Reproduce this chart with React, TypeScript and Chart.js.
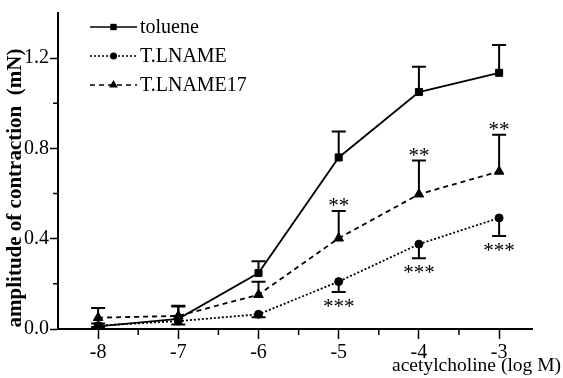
import React, { useEffect, useRef } from "react";
import { Chart, registerables } from "chart.js";

Chart.register(...registerables);

// ---- data ----
const doses = [-8, -7, -6, -5, -4, -3];
const seriesLabels = ["toluene", "T.LNAME", "T.LNAME17"];
const tolueneMean = [0.012, 0.045, 0.248, 0.76, 1.05, 1.135];
const tolueneSem = [0.012, 0.055, 0.052, 0.115, 0.112, 0.123];
const lnameMean = [0.015, 0.035, 0.065, 0.21, 0.376, 0.492];
const lnameSem = [0.006, 0.015, 0.013, 0.046, 0.062, 0.08];
const lname17Mean = [0.05, 0.058, 0.152, 0.402, 0.597, 0.698];
const lname17Sem = [0.043, 0.045, 0.057, 0.121, 0.149, 0.163];
const lname17Marks = ["", "", "", "**", "**", "**"];
const lnameMarks = ["", "", "", "***", "***", "***"];

const xMajorTicks = [-8, -7, -6, -5, -4, -3];
const xMinorTicks = [-7.5, -6.5, -5.5, -4.5, -3.5];
const yMajorTicks = [0, 0.4, 0.8, 1.2];
const yMinorTicks = [0.2, 0.6, 1.0];

const yTitle = "amplitude of contraction  (mN)";
const xTitle = "acetylcholine (log M)";

const SERIF = "'Liberation Serif', 'Times New Roman', serif";

const seriesStyles = [
  { dash: [] as number[], point: "rect", radius: 5, errDir: 1 },
  { dash: [2, 2], point: "circle", radius: 4, errDir: -1 },
  { dash: [5, 4], point: "triangle", radius: 5.5, errDir: 1 },
];

function drawMarker(ctx: CanvasRenderingContext2D, kind: string, x: number, y: number, r: number) {
  ctx.beginPath();
  if (kind === "rect") {
    const s = r * Math.SQRT1_2;
    ctx.rect(x - s, y - s, 2 * s, 2 * s);
  } else if (kind === "circle") {
    ctx.arc(x, y, r, 0, Math.PI * 2);
  } else {
    const h = r * 1.5;
    const w = r * Math.sqrt(3) / 2;
    ctx.moveTo(x, y - r);
    ctx.lineTo(x + w, y + h - r);
    ctx.lineTo(x - w, y + h - r);
    ctx.closePath();
  }
  ctx.fill();
}

export default function App() {
  const ref = useRef<HTMLCanvasElement | null>(null);

  useEffect(() => {
    if (!ref.current) return;
    const means = [tolueneMean, lnameMean, lname17Mean];
    const sems = [tolueneSem, lnameSem, lname17Sem];

    const decor = {
      id: "decor",
      beforeDatasetsDraw(chart: any) {
        const ctx = chart.ctx as CanvasRenderingContext2D;
        const xs = chart.scales.x;
        const ys = chart.scales.y;
        ctx.save();
        ctx.strokeStyle = "#000";
        ctx.lineWidth = 2;
        ctx.setLineDash([]);
        means.forEach((m, si) => {
          const dir = seriesStyles[si].errDir;
          doses.forEach((d, i) => {
            const x = xs.getPixelForValue(d);
            const y0 = ys.getPixelForValue(m[i]);
            const y1 = ys.getPixelForValue(m[i] + dir * sems[si][i]);
            ctx.beginPath();
            ctx.moveTo(x, y0);
            ctx.lineTo(x, y1);
            ctx.moveTo(x - 7, y1);
            ctx.lineTo(x + 7, y1);
            ctx.stroke();
          });
        });
        ctx.restore();
      },
      afterDraw(chart: any) {
        const ctx = chart.ctx as CanvasRenderingContext2D;
        const xs = chart.scales.x;
        const ys = chart.scales.y;
        const area = chart.chartArea;
        ctx.save();
        // minor ticks
        ctx.strokeStyle = "#000";
        ctx.lineWidth = 1.5;
        ctx.beginPath();
        xMinorTicks.forEach((v) => {
          const x = xs.getPixelForValue(v);
          ctx.moveTo(x, area.bottom);
          ctx.lineTo(x, area.bottom + 6);
        });
        yMinorTicks.forEach((v) => {
          const y = ys.getPixelForValue(v);
          ctx.moveTo(area.left, y);
          ctx.lineTo(area.left - 5, y);
        });
        ctx.stroke();

        // significance marks
        ctx.fillStyle = "#000";
        ctx.font = `21px ${SERIF}`;
        ctx.textAlign = "center";
        ctx.textBaseline = "alphabetic";
        doses.forEach((d, i) => {
          const x = xs.getPixelForValue(d);
          if (lname17Marks[i]) {
            const y = ys.getPixelForValue(lname17Mean[i] + lname17Sem[i]);
            ctx.fillText(lname17Marks[i], x, y + 1);
          }
          if (lnameMarks[i]) {
            const y = ys.getPixelForValue(lnameMean[i] - lnameSem[i]);
            ctx.fillText(lnameMarks[i], x, y + 21);
          }
        });

        // legend
        const rows = [27, 56, 85];
        ctx.textAlign = "left";
        ctx.textBaseline = "middle";
        ctx.font = `20px ${SERIF}`;
        seriesLabels.forEach((lab, si) => {
          const st = seriesStyles[si];
          const y = rows[si];
          ctx.lineWidth = 1.6;
          ctx.setLineDash(st.dash);
          ctx.beginPath();
          ctx.moveTo(90, y);
          ctx.lineTo(137, y);
          ctx.stroke();
          ctx.setLineDash([]);
          drawMarker(ctx, st.point, 113.5, y, st.radius - 0.5);
          ctx.fillText(lab, 140, y + 1);
        });

        // axis titles
        ctx.font = `19.5px ${SERIF}`;
        ctx.textAlign = "right";
        ctx.textBaseline = "alphabetic";
        ctx.fillText(xTitle, 561, 371);

        ctx.save();
        ctx.translate(16, 188);
        ctx.rotate(-Math.PI / 2);
        ctx.font = `bold 21px ${SERIF}`;
        ctx.textAlign = "center";
        ctx.textBaseline = "middle";
        ctx.fillText(yTitle, 0, 0);
        ctx.restore();

        ctx.restore();
      },
    };

    const chart = new Chart(ref.current, {
      type: "line",
      data: {
        datasets: seriesLabels.map((label, si) => ({
          label,
          data: doses.map((d, i) => ({ x: d, y: means[si][i] })),
          borderColor: "#000",
          backgroundColor: "#000",
          borderWidth: 1.8,
          borderDash: seriesStyles[si].dash,
          pointStyle: seriesStyles[si].point as any,
          pointRadius: seriesStyles[si].radius,
          pointBackgroundColor: "#000",
          pointBorderColor: "#000",
          pointBorderWidth: 1,
          tension: 0,
          fill: false,
        })),
      },
      plugins: [decor],
      options: {
        animation: false,
        responsive: false,
        devicePixelRatio: 1,
        layout: { padding: { left: 0, top: 7, right: 31, bottom: 0 } },
        plugins: {
          legend: { display: false },
          tooltip: { enabled: false },
        },
        scales: {
          x: {
            type: "linear",
            min: -8.5,
            max: -2.59,
            afterBuildTicks: (s: any) => {
              s.ticks = xMajorTicks.map((v) => ({ value: v }));
            },
            afterFit: (s: any) => {
              s.height = 49;
            },
            ticks: {
              callback: (v: any) => String(v),
              font: { family: SERIF, size: 20 },
              color: "#000",
              padding: 2,
              autoSkip: false,
              maxRotation: 0,
            },
            grid: {
              display: true,
              drawOnChartArea: false,
              drawTicks: true,
              tickLength: 10,
              tickWidth: 1.5,
              tickColor: "#000",
            },
            border: { display: true, color: "#000", width: 2 },
          },
          y: {
            type: "linear",
            min: 0,
            max: 1.4,
            afterBuildTicks: (s: any) => {
              s.ticks = yMajorTicks.map((v) => ({ value: v }));
            },
            afterFit: (s: any) => {
              s.width = 58;
            },
            ticks: {
              callback: (v: any) => Number(v).toFixed(1),
              font: { family: SERIF, size: 20 },
              color: "#000",
              padding: 1,
            },
            grid: {
              display: true,
              drawOnChartArea: false,
              drawTicks: true,
              tickLength: 8,
              tickWidth: 1.5,
              tickColor: "#000",
            },
            border: { display: true, color: "#000", width: 2 },
          },
        },
      },
    } as any);

    return () => chart.destroy();
  }, []);

  return (
    <div style={{ position: "absolute", left: 0, top: 0, width: 563, height: 378 }}>
      <canvas ref={ref} width={563} height={378} />
    </div>
  );
}
